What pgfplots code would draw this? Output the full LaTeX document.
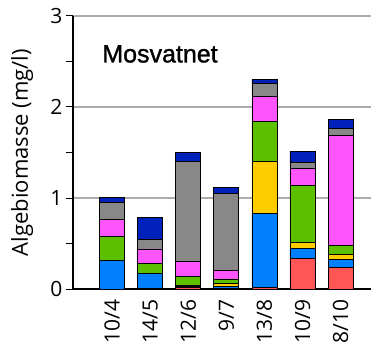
\documentclass[border=0pt]{standalone}
\usepackage{pgfplots}
\pgfplotsset{compat=1.18}
\usepackage{pgfplotstable}
\usepackage{fontspec}
\setmainfont{Open Sans}
\newfontfamily\titlefont[FakeBold=1.2]{Liberation Sans}
\definecolor{cred}{RGB}{255,85,85}
\definecolor{cblue}{RGB}{0,128,255}
\definecolor{cyellow}{RGB}{255,204,0}
\definecolor{cgreen}{RGB}{92,191,0}
\definecolor{cmag}{RGB}{255,85,255}
\definecolor{cgray}{RGB}{136,136,136}
\definecolor{cdblue}{RGB}{0,34,187}
\pgfplotstableread{
idx red blue yellow green magenta gray dblue
0 0.000 0.310 0.000 0.270 0.180 0.190 0.055
1 0.010 0.165 0.000 0.105 0.160 0.100 0.250
2 0.020 0.005 0.010 0.100 0.170 1.100 0.095
3 0.005 0.025 0.030 0.050 0.090 0.850 0.070
4 0.015 0.820 0.570 0.440 0.270 0.147 0.044
5 0.340 0.110 0.066 0.626 0.187 0.062 0.125
6 0.240 0.088 0.055 0.091 1.210 0.081 0.099
}\data
\begin{document}
\begin{tikzpicture}
\begin{axis}[
  scale only axis, width=298bp, height=273bp,
  xmin=-1.03, xmax=6.8, ymin=0, ymax=3,
  ybar stacked, bar width=25bp,
  axis x line*=bottom, axis y line*=left,
  axis line style={black, line width=1.6bp},
  xtick={0,...,6},
  xticklabels={10/4,14/5,12/6,9/7,13/8,10/9,8/10},
  x tick style={draw=none},
  xticklabel style={rotate=90, anchor=east, font=\fontsize{21bp}{25bp}\selectfont},
  ytick={0,1,2,3}, minor ytick={0.5,1.5,2.5},
  tick align=outside, major tick length=7bp, minor tick length=7bp,
  y tick style={black, line width=1bp},
  ymajorgrids, major grid style={gray!65, line width=1.2bp},
  yticklabel style={font=\fontsize{21bp}{25bp}\selectfont},
  /pgf/number format/assume math mode=true,
  ylabel={Algebiomasse (mg/l)},
  every axis y label/.style={at={(axis description cs:-0.171,0.5)}, rotate=90, anchor=center, font=\fontsize{22bp}{26bp}\selectfont},
  every axis plot/.append style={draw=black, line width=0.8bp},
  clip=false,
]
\addplot[fill=cred] table[x=idx, y=red] {\data};
\addplot[fill=cblue] table[x=idx, y=blue] {\data};
\addplot[fill=cyellow] table[x=idx, y=yellow] {\data};
\addplot[fill=cgreen] table[x=idx, y=green] {\data};
\addplot[fill=cmag] table[x=idx, y=magenta] {\data};
\addplot[fill=cgray] table[x=idx, y=gray] {\data};
\addplot[fill=cdblue] table[x=idx, y=dblue] {\data};
\node[font=\titlefont\fontsize{25bp}{30bp}\selectfont] at (axis description cs:0.292,0.861) {Mosvatnet};
\end{axis}
\pgfresetboundingbox
\useasboundingbox (-73bp,-60bp) rectangle (298bp,289bp);
\end{tikzpicture}
\end{document}
